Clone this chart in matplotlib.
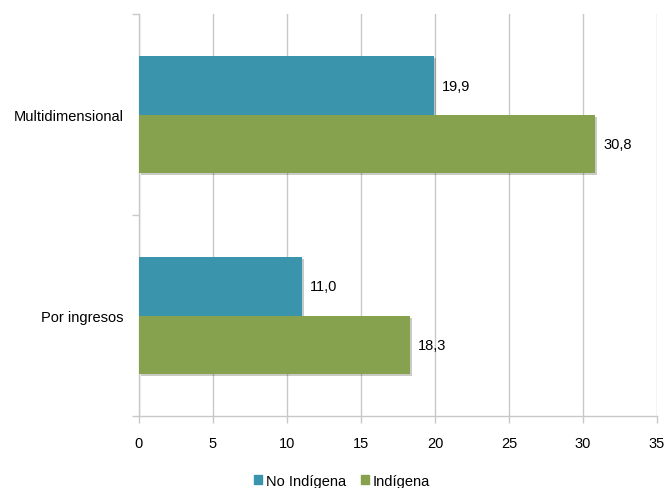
import matplotlib.pyplot as plt
import matplotlib.patches as mpatches
import matplotlib.patheffects as pe
import numpy as np

plt.rcParams["font.family"] = ["Liberation Sans", "DejaVu Sans"]

categories = ["Multidimensional", "Por ingresos"]
no_indigena = [19.9, 11.0]
indigena = [30.8, 18.3]
series_names = ["No Indígena", "Indígena"]

TEAL = "#3a94ab"
GREEN = "#86a24e"
GRID = "#c8c8c8"
FS = 10.5

fig = plt.figure(figsize=(6.66, 4.89), dpi=100)
ax = fig.add_axes([0.2087, 0.147, 0.7778, 0.822])

y = np.arange(len(categories))
h = 0.29
shadow = [pe.SimplePatchShadow(offset=(1.5, -1.5), alpha=0.25), pe.Normal()]
b1 = ax.barh(y - h / 2, no_indigena, height=h, color=TEAL,
             zorder=3, path_effects=shadow)
b2 = ax.barh(y + h / 2, indigena, height=h, color=GREEN,
             zorder=3, path_effects=shadow)

for bars, vals in ((b1, no_indigena), (b2, indigena)):
    for bar, v in zip(bars, vals):
        ax.text(v + 0.55, bar.get_y() + bar.get_height() / 2,
                f"{v:.1f}".replace(".", ","), va="center", ha="left",
                fontsize=FS, color="black")

ax.set_xlim(0, 35)
ax.set_xticks(range(0, 36, 5))
ax.set_ylim(1.5, -0.5)
ax.set_yticks(y)
ax.set_yticklabels(categories)
ax.set_yticks([-0.5, 0.5, 1.5], minor=True)

ax.grid(axis="x", color=GRID, lw=1, zorder=0)
for s in ("top", "right"):
    ax.spines[s].set_visible(False)
for s in ("left", "bottom"):
    ax.spines[s].set_color(GRID)
    ax.spines[s].set_linewidth(1)

ax.tick_params(axis="y", which="major", length=0, pad=11, labelsize=FS)
ax.tick_params(axis="y", which="minor", length=5, color=GRID, width=1)
ax.tick_params(axis="x", length=5, color=GRID, width=1, pad=9, labelsize=FS)

handles = [mpatches.Patch(color=TEAL), mpatches.Patch(color=GREEN)]
fig.legend(handles=handles, labels=series_names, loc="center",
           bbox_to_anchor=(342 / 666, 1 - 482 / 489), ncol=2, frameon=False,
           fontsize=FS, handlelength=0.55, handleheight=0.55, handletextpad=0.3,
           columnspacing=1.0, borderaxespad=0, borderpad=0)

fig.savefig("out.png", dpi=100)
